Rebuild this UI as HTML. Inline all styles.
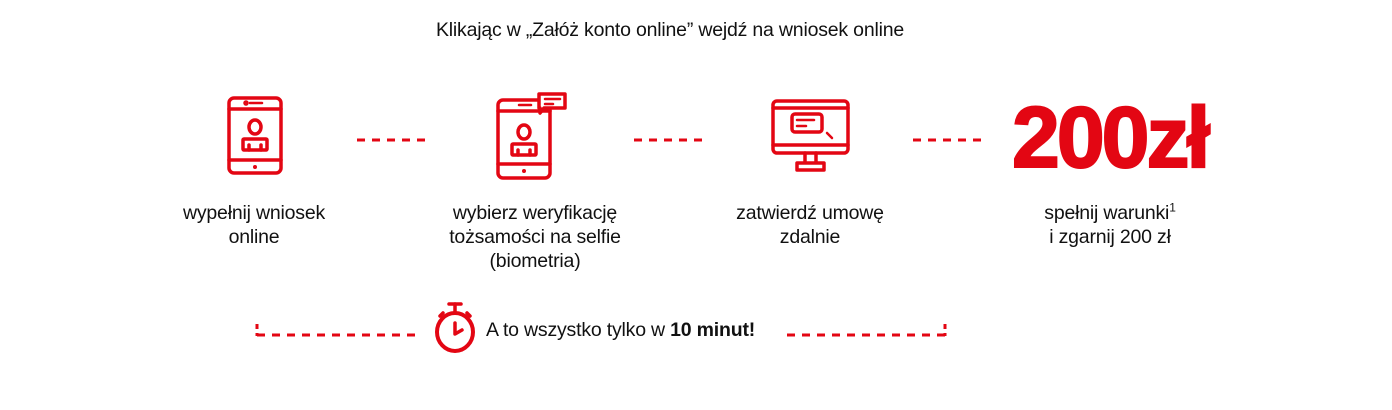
<!DOCTYPE html>
<html><head><meta charset="utf-8"><style>
body{margin:0;width:1392px;height:410px;background:#fff;position:relative;font-family:"Liberation Sans",sans-serif;color:#111;overflow:hidden}
.t{position:absolute;font-size:19.5px;line-height:24px;text-align:center;width:260px;letter-spacing:-0.2px}
svg{position:absolute;left:0;top:0}
</style></head><body>
<div class="t" style="left:370px;top:18px;width:600px">Klikając w „Załóż konto online” wejdź na wniosek online</div>
<svg width="1392" height="410" fill="none" stroke="#e30613" stroke-width="3.5" stroke-linecap="round" stroke-linejoin="round">
<rect x="229" y="98" width="52" height="75" rx="5"/>
<line x1="229" y1="109" x2="281" y2="109"/><line x1="229" y1="160" x2="281" y2="160"/>
<line x1="250" y1="103" x2="262" y2="103" stroke-width="2.5"/><circle cx="246" cy="103" r="1" fill="#e30613"/>
<circle cx="255" cy="167" r="2" fill="#e30613" stroke="none"/>
<ellipse cx="255" cy="127" rx="6" ry="7"/><rect x="243" y="139" width="24" height="11" rx="1"/>
<line x1="249" y1="145" x2="249" y2="150"/><line x1="261" y1="145" x2="261" y2="150"/>
<rect x="498" y="100" width="52" height="78" rx="5"/>
<line x1="498" y1="111" x2="550" y2="111"/><line x1="498" y1="164" x2="550" y2="164"/>
<line x1="519" y1="105" x2="531" y2="105" stroke-width="2.5"/>
<circle cx="524" cy="171" r="2" fill="#e30613" stroke="none"/>
<ellipse cx="524" cy="132" rx="6" ry="7"/><rect x="512" y="144" width="24" height="11" rx="1"/>
<line x1="518" y1="150" x2="518" y2="155"/><line x1="530" y1="150" x2="530" y2="155"/>
<path d="M539 94h26v14h-21l-4 5v-5h-1z" fill="#fff"/>
<line x1="545" y1="99" x2="560" y2="99" stroke-width="2.5"/><line x1="545" y1="104" x2="553" y2="104" stroke-width="2.5"/>
<rect x="773" y="101" width="75" height="52" rx="4"/>
<line x1="773" y1="108" x2="848" y2="108"/><line x1="773" y1="145" x2="848" y2="145"/>
<rect x="792" y="114" width="30" height="18" rx="3"/>
<line x1="797" y1="120" x2="814" y2="120" stroke-width="2.5"/><line x1="797" y1="126" x2="806" y2="126" stroke-width="2.5"/>
<line x1="827" y1="133" x2="832" y2="138" stroke-width="2.5"/>
<path d="M805 153v10M816 153v10M797 163h27v7h-27z"/>
<g stroke-width="3" stroke-linecap="butt" stroke-dasharray="8 7">
<line x1="357" y1="140" x2="430" y2="140"/><line x1="634" y1="140" x2="707" y2="140"/><line x1="913" y1="140" x2="986" y2="140"/>
<line x1="257" y1="335" x2="420" y2="335"/><line x1="787" y1="335" x2="945" y2="335"/>
</g>
<line x1="257" y1="324" x2="257" y2="336" stroke-width="3" stroke-linecap="butt" stroke-dasharray="5 4"/>
<line x1="945" y1="324" x2="945" y2="336" stroke-width="3" stroke-linecap="butt" stroke-dasharray="5 4"/>
<ellipse cx="455" cy="332" rx="18" ry="19" stroke-width="4"/>
<line x1="449" y1="304" x2="461" y2="304"/><line x1="455" y1="304" x2="455" y2="312"/>
<line x1="440" y1="316" x2="443" y2="313"/><line x1="470" y1="316" x2="467" y2="313"/>
<path d="M455 323v11l7-4"/>
</svg>
<div style="position:absolute;left:1012px;top:88px;font-size:86px;font-weight:bold;color:#e30613;letter-spacing:-3px;line-height:100px;-webkit-text-stroke:2px #e30613">200zł</div>
<div class="t" style="left:124px;top:201px">wypełnij wniosek<br>online</div>
<div class="t" style="left:405px;top:201px">wybierz weryfikację<br>tożsamości na selfie<br>(biometria)</div>
<div class="t" style="left:680px;top:201px">zatwierdź umowę<br>zdalnie</div>
<div class="t" style="left:980px;top:201px">spełnij warunki<sup style="font-size:12px;line-height:0">1</sup><br>i zgarnij 200 zł</div>
<div style="position:absolute;left:486px;top:318px;font-size:19.5px;line-height:24px;letter-spacing:-0.2px">A to wszystko tylko w <b>10 minut!</b></div>
</body></html>
